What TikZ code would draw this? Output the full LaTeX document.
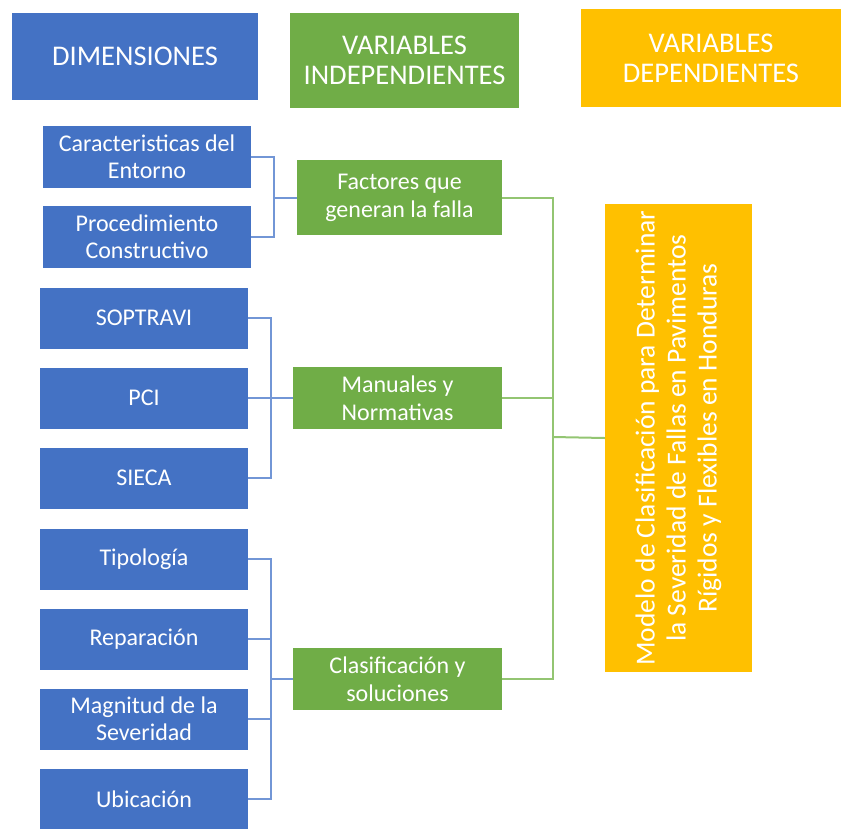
\documentclass[tikz,border=0pt]{standalone}
\usepackage{fontspec}
\setmainfont{Carlito}
\definecolor{cblue}{HTML}{4472C4}
\definecolor{cgreen}{HTML}{70AD47}
\definecolor{cyellow}{HTML}{FFC000}
\definecolor{lblue}{HTML}{7296D6}
\definecolor{lgreen}{HTML}{93C572}
\begin{document}
\begin{tikzpicture}[x=1pt,y=-1pt,
  box/.style={inner sep=0pt, text=white, align=center},
  hdr/.style={box, font=\fontsize{28.5}{30}\selectfont},
  bbox/.style={box, fill=cblue, minimum width=208pt, minimum height=61pt, font=\fontsize{24}{27}\selectfont},
  gbox/.style={box, fill=cgreen, minimum width=209pt, minimum height=62pt, font=\fontsize{24}{28}\selectfont},
  bl/.style={draw=lblue, line width=2pt},
  gl/.style={draw=lgreen, line width=2pt}]
\useasboundingbox (0,0) rectangle (841,828);
% headers
\node[hdr, fill=cblue, minimum width=246pt, minimum height=87pt] (h1) at (135,56.5) {DIMENSIONES};
\node[hdr, fill=cgreen, minimum width=229pt, minimum height=95pt] (h2) at (404.5,60.5) {VARIABLES\\INDEPENDIENTES};
\node[hdr, fill=cyellow, minimum width=260pt, minimum height=98pt] (h3) at (711,58) {VARIABLES\\DEPENDIENTES};
% dimensions
\node[bbox, minimum height=62pt] (c1) at (147,157) {Caracteristicas del\\Entorno};
\node[bbox, minimum height=62pt] (c2) at (147,237) {Procedimiento\\Constructivo};
\node[bbox] (s1) at (144,318) {SOPTRAVI};
\node[bbox] (s2) at (144,398) {PCI};
\node[bbox] (s3) at (144,478) {SIECA};
\node[bbox] (s4) at (144,559) {Tipología};
\node[bbox] (s5) at (144,639) {Reparación};
\node[bbox] (s6) at (144,719) {Magnitud de la\\Severidad};
\node[bbox] (s7) at (144,799) {Ubicación};
% independent variables
\node[gbox, minimum width=205pt, minimum height=75pt] (g1) at (399.5,197.5) {Factores que\\generan la falla};
\node[gbox] (g2) at (397.5,398) {Manuales y\\Normativas};
\node[gbox] (g3) at (397.5,679) {Clasificación y\\soluciones};
% dependent variable
\node[box, fill=cyellow, minimum width=147pt, minimum height=468pt] (Y) at (678.5,438) {};
\node[box, rotate=90, font=\fontsize{27.5}{31}\selectfont] (yt) at (Y.center) {Modelo de Clasificación para Determinar\\la Severidad de Fallas en Pavimentos\\Rígidos y Flexibles en Honduras};
% connector junctions
\coordinate (b1) at (274,197.5);
\coordinate (b2) at (271,398);
\coordinate (b3) at (271,679);
\coordinate (b4) at (553,437);
% blue connectors
\draw[bl] (c1.east) -| (b1) |- (c2.east);
\draw[bl] (b1) -- (g1.west);
\draw[bl] (s1.east) -| (b2) |- (s3.east);
\draw[bl] (s2.east) -- (g2.west);
\draw[bl] (s4.east) -| (b3) |- (s7.east);
\draw[bl] (s5.east) -- (s5.east -| b3);
\draw[bl] (s6.east) -- (s6.east -| b3);
\draw[bl] (b3) -- (g3.west);
% green connectors
\draw[gl] (g1.east) -| (b4) |- (g3.east);
\draw[gl] (g2.east) -| (b4);
\draw[gl] (b4) -- (Y.west);
\end{tikzpicture}
\end{document}
